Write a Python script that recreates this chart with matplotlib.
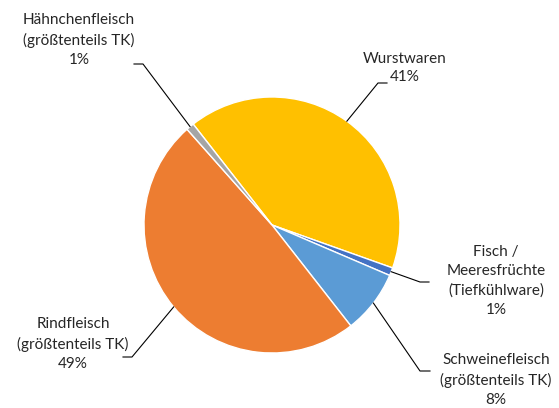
import numpy as np
import matplotlib.pyplot as plt

plt.rcParams['font.family'] = ['Lato', 'DejaVu Sans']

# data
labels = ['Wurstwaren', 'Fisch /\nMeeresfrüchte\n(Tiefkühlware)',
          'Schweinefleisch\n(größtenteils TK)', 'Rindfleisch\n(größtenteils TK)',
          'Hähnchenfleisch\n(größtenteils TK)']
shares = [41, 1, 8, 49, 1]
colors = ['#FFC000', '#4472C4', '#5B9BD5', '#ED7D31', '#A5A5A5']

# label layout (pixel coords, y downwards) and leader line elbows
text_pos = [(405, 68), (496, 281), (496, 380), (73, 344), (79, 40)]
elbow = [(378, 83), (420, 282), (420, 371), (132, 357), (143, 64)]
elbow_end = [(387, 83), (429, 282), (430, 371), (123, 357), (134, 64)]

W, H = 559, 408
fig = plt.figure(figsize=(W / 100, H / 100), dpi=100)
ax = fig.add_axes([0, 0, 1, 1])

cx, cy, r = 272, H - 225, 128
wedges, _ = ax.pie(shares, colors=colors, startangle=128, counterclock=False,
                   center=(cx, cy), radius=r,
                   wedgeprops=dict(edgecolor='white', linewidth=1))
ax.set_xlim(0, W)
ax.set_ylim(0, H)
ax.set_aspect('equal')
ax.axis('off')

for w, lab, s, tp, e, ee in zip(wedges, labels, shares, text_pos, elbow, elbow_end):
    ang = np.deg2rad((w.theta1 + w.theta2) / 2)
    x0, y0 = cx + r * np.cos(ang), cy + r * np.sin(ang)
    ax.plot([x0, e[0], ee[0]], [y0, H - e[1], H - ee[1]], color='black', lw=0.8)
    ax.text(tp[0], H - tp[1], f'{lab}\n{s}%', ha='center', va='center',
            fontsize=11, linespacing=1.45, color='#262626')

fig.savefig('out.png', dpi=100)
